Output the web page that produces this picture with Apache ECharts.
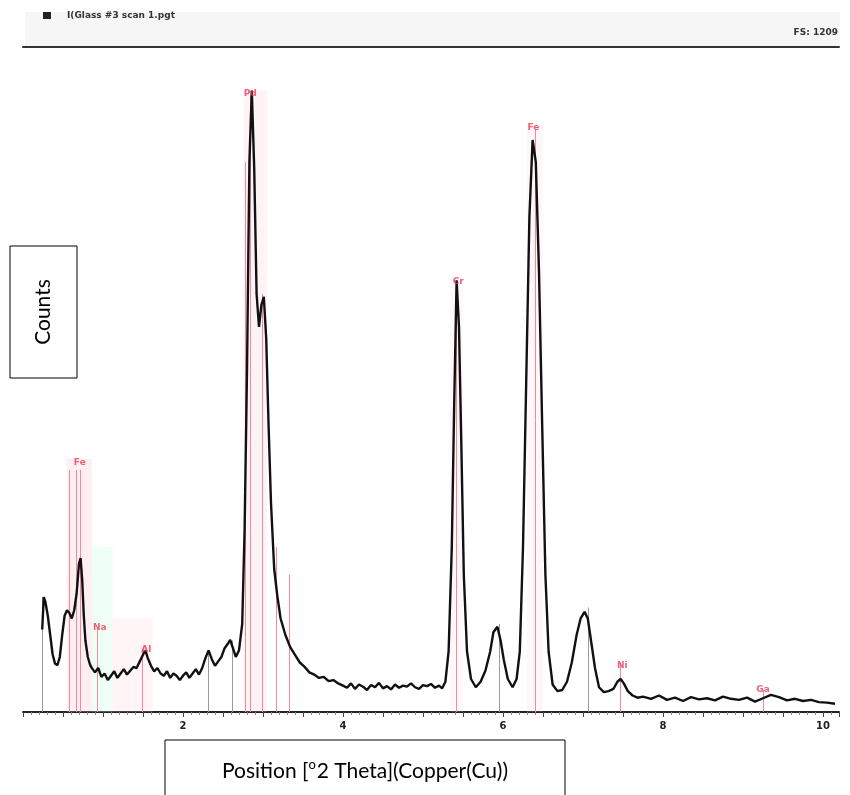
<!DOCTYPE html>
<html>
<head>
<meta charset="utf-8">
<title>spectrum</title>
<script src="https://cdn.jsdelivr.net/npm/echarts@6/dist/echarts.min.js"></script>
<style>
html,body{margin:0;padding:0;background:#fff;}
#main{width:850px;height:795px;}
</style>
</head>
<body>
<div id="main"></div>
<script>
//能谱数据 (keV, counts)
var energy = [0.24,0.26,0.28,0.31,0.34,0.37,0.40,0.43,0.46,0.49,0.52,0.55,0.58,0.61,0.64,0.67,0.70,0.72,0.74,0.76,0.78,0.81,0.84,0.87,
	0.90,0.94,0.98,1.02,1.06,1.10,1.14,1.18,1.22,1.26,1.30,1.34,1.38,1.42,1.46,1.50,1.53,1.56,1.60,1.64,1.68,1.72,1.76,1.80,1.84,1.88,1.92,1.96,2.00,
	2.04,2.08,2.12,2.16,2.20,2.24,2.28,2.32,2.36,2.40,2.44,2.48,2.52,2.56,2.59,2.62,2.66,2.70,2.74,2.77,2.80,2.83,2.86,2.89,2.92,2.95,2.98,3.01,3.04,
	3.07,3.10,3.14,3.18,3.22,3.28,3.34,3.40,3.46,3.52,3.58,3.64,3.70,3.76,3.82,3.88,3.94,
	4.00,4.05,4.10,4.15,4.20,4.25,4.30,4.35,4.40,4.45,4.50,4.55,4.60,4.65,4.70,4.75,4.80,4.85,4.90,4.95,5.00,5.05,5.10,5.15,5.20,5.24,
	5.28,5.32,5.36,5.39,5.42,5.45,5.48,5.51,5.55,5.60,5.66,5.72,5.78,5.84,5.88,5.93,5.97,6.01,6.06,6.12,6.17,6.21,6.25,6.29,6.33,6.37,6.41,6.45,6.49,6.53,6.57,6.62,6.68,
	6.74,6.80,6.86,6.92,6.97,7.02,7.06,7.10,7.15,7.20,7.26,7.32,7.38,7.43,7.47,7.51,7.56,7.62,7.68,
	7.75,7.85,7.95,8.05,8.15,8.25,8.35,8.45,8.55,8.65,8.75,8.85,8.95,9.05,9.15,9.25,9.35,9.45,9.55,9.65,9.75,9.85,9.95,10.05,10.15];
var counts = [150,209,200,175,140,105,88,85,100,140,175,185,180,170,185,215,270,280,240,175,130,100,85,78,
	72,80,64,70,58,66,74,62,70,78,68,75,82,80,92,104,112,98,84,74,80,70,66,74,62,70,66,58,66,
	72,62,70,78,68,80,98,112,96,84,92,100,116,124,131,118,100,112,160,330,620,1000,1130,990,760,700,740,755,680,
	520,380,260,210,170,140,118,104,90,82,72,68,62,64,56,58,52,
	48,44,52,42,50,46,40,49,45,53,43,47,41,50,44,48,46,52,45,42,49,47,51,44,48,43,
	55,110,300,560,785,700,480,250,110,60,45,55,75,110,145,155,130,95,60,45,60,110,300,600,900,1040,1000,800,520,250,110,50,38,
	40,55,90,140,170,182,170,130,80,45,36,38,42,55,60,52,38,30,26,
	28,24,30,22,26,20,27,23,25,21,28,24,22,26,19,25,31,27,21,24,20,22,18,17,15];

//元素标记线
var lineKev = [0.24,0.58,0.66,0.72,0.93,1.49,2.31,2.62,2.78,2.84,2.99,3.17,3.33,5.41,5.95,6.40,7.06,7.47,9.25];
var lineTop = [209,440,440,440,150,115,110,130,1000,1120,760,300,250,780,160,1060,190,90,40];
var lineGray = [true,false,false,false,false,false,true,true,false,false,false,false,false,false,true,false,true,false,false];

//元素标签
var peakNames = ['Fe','Na','Al','Pd','Cr','Fe','Ni','Ga'];
var peakKev = [0.71,0.96,1.54,2.84,5.44,6.38,7.49,9.25];
var peakCounts = [453,153,113,1125,782,1062,85,40];

//淡色区域
var bandStart = [0.55,0.86,1.12,2.76,5.34,6.30];
var bandEnd = [0.86,1.12,1.62,3.05,5.50,6.50];
var bandTop = [460,300,170,1130,790,1070];
var bandColor = ['rgba(255,180,190,0.22)','rgba(190,255,220,0.25)','rgba(255,200,205,0.18)','rgba(255,190,200,0.18)','rgba(255,200,210,0.15)','rgba(255,200,210,0.15)'];

var fullScale = 1209;

(function(){
	var myChart = echarts.init(document.getElementById('main'));

	var lineData = [];
	for(var i=0;i<energy.length;i++){
		lineData.push([energy[i], counts[i]]);
	}

	var marks = [];
	for(var j=0;j<lineKev.length;j++){
		marks.push([
			{coord:[lineKev[j],0], lineStyle:{color: lineGray[j] ? '#9a9a9a' : '#f08a9c', width:1, type:'solid'}},
			{coord:[lineKev[j],lineTop[j]]}
		]);
	}

	var areas = [];
	for(var k=0;k<bandStart.length;k++){
		areas.push([
			{xAxis:bandStart[k], yAxis:0, itemStyle:{color:bandColor[k]}},
			{xAxis:bandEnd[k], yAxis:bandTop[k]}
		]);
	}

	var labelData = [];
	for(var m=0;m<peakNames.length;m++){
		labelData.push({value:[peakKev[m], peakCounts[m]], name:peakNames[m]});
	}

	option = {
		animation:false,
		backgroundColor:'#fff',
		grid:{left:23, right:11, top:47, bottom:83},
		xAxis:[
			{
				type:'value',
				min:0,
				max:10.2,
				interval:0.5,
				position:'bottom',
				axisLine:{show:true, lineStyle:{color:'#222', width:2}},
				axisTick:{show:true, length:5, lineStyle:{color:'#444'}},
				minorTick:{show:true, splitNumber:5, length:3, lineStyle:{color:'#888'}},
				splitLine:{show:false},
				axisLabel:{
					showMaxLabel:false,
					margin:9,
					color:'#222',
					fontSize:10,
					fontWeight:'bold',
					fontFamily:'DejaVu Sans',
					formatter:function(v){
						if(v > 0 && Math.abs(v % 2) < 1e-6){ return String(v); }
						return '';
					}
				}
			},
			{
				type:'value',
				min:0,
				max:10.2,
				position:'top',
				axisLine:{show:true, lineStyle:{color:'#333', width:2}},
				axisTick:{show:false},
				axisLabel:{show:false},
				splitLine:{show:false}
			}
		],
		yAxis:{
			type:'value',
			min:0,
			max:fullScale,
			show:false
		},
		series:[
			{
				name:'bands',
				type:'line',
				data:[],
				markArea:{silent:true, data:areas}
			},
			{
				name:'lines',
				type:'line',
				data:[],
				markLine:{silent:true, symbol:['none','none'], label:{show:false}, data:marks}
			},
			{
				name:'spectrum',
				type:'line',
				data:lineData,
				showSymbol:false,
				lineStyle:{color:'#111', width:2.4},
				z:5
			},
			{
				name:'labels',
				type:'scatter',
				data:labelData,
				symbolSize:0,
				z:6,
				label:{
					show:true,
					position:'inside',
					formatter:'{b}',
					color:'#e8395a',
					fontSize:9,
					fontWeight:'bold',
					fontFamily:'DejaVu Sans'
				}
			}
		],
		graphic:[
			{type:'rect', shape:{x:25, y:12, width:815, height:34}, style:{fill:'#f6f6f6'}, silent:true, z:-1},
			{type:'rect', shape:{x:43, y:12, width:8, height:7}, style:{fill:'#222'}},
			{type:'text', x:67, y:16, style:{text:'I(Glass #3 scan 1.pgt', fill:'#333', font:'bold 9px "DejaVu Sans"', verticalAlign:'middle'}},
			{type:'text', x:838, y:33, style:{text:'FS: 1209', fill:'#333', font:'bold 9px "DejaVu Sans"', align:'right', verticalAlign:'middle'}},
			{type:'rect', shape:{x:10, y:246, width:67, height:132}, style:{fill:'#fff', stroke:'#000', lineWidth:1}, z:10},
			{type:'text', x:43, y:312, rotation:Math.PI/2, z:11,
				style:{text:'Counts', fill:'#000', font:'21px Lato', align:'center', verticalAlign:'middle'}},
			{type:'rect', shape:{x:165, y:740, width:400, height:70}, style:{fill:'#fff', stroke:'#000', lineWidth:1}, z:10},
			{type:'text', x:365, y:771, z:11,
				style:{
					text:'{a|Position [}{s|o}{a|2 Theta](Copper(Cu))}',
					align:'center',
					verticalAlign:'middle',
					rich:{
						a:{font:'21px Lato', fill:'#000', lineHeight:26},
						s:{font:'13px Lato', fill:'#000', verticalAlign:'top', lineHeight:26, padding:[0,1,12,0]}
					}
				}}
		]
	};
	myChart.setOption(option);
})();
</script>
</body>
</html>
